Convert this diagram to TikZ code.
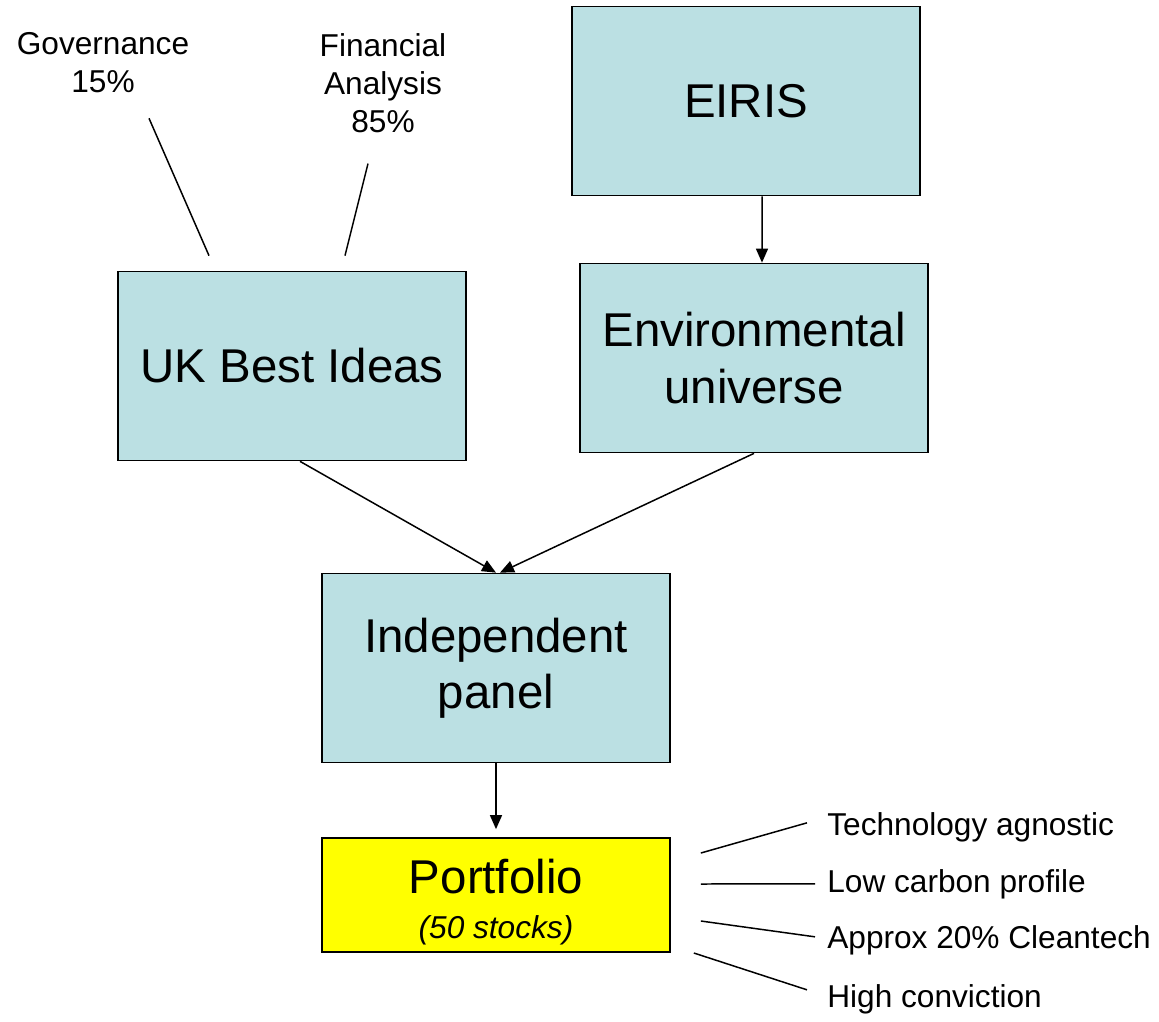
\documentclass[tikz,border=0pt]{standalone}
\usepackage{fontspec}
\setmainfont{Liberation Sans}
\usetikzlibrary{arrows.meta,positioning}

\definecolor{boxblue}{RGB}{187,224,227}
\definecolor{folioyellow}{RGB}{255,255,0}

\tikzset{
  stage/.style={draw, line width=1pt, fill=boxblue, minimum width=6.96cm,
    minimum height=3.78cm, align=center, font=\fontsize{27}{32}\selectfont},
  note/.style={align=center, font=\fontsize{18}{21.5}\selectfont},
  point/.style={inner sep=0pt, anchor=base west, font=\fontsize{18}{21.5}\selectfont},
  flow/.style={line width=0.85pt, -{Triangle[length=0.28cm,width=0.24cm]}},
  tie/.style={line width=0.85pt},
}

\begin{document}
\begin{tikzpicture}[x=0.02cm, y=-0.02cm]
    \useasboundingbox (0,0) rectangle (1159,1021);

    % the four stages
    \node[stage] (eiris) at (746,101) {EIRIS};
    \node[stage] (env) at (754,358) {Environmental\\universe};
    \node[stage] (ukbi) at (292,366) {UK Best Ideas};
    \node[stage] (panel) at (496,668) {Independent\\panel};
    \node[stage, fill=folioyellow, minimum height=2.28cm] (folio) at (496,895)
      {\rule{0pt}{27.5pt}Portfolio\\[-6pt]{\fontsize{18}{21.5}\selectfont\itshape (50 stocks)}};

    % weights feeding the stock picks
    \node[note] (gov) at (103,63) {Governance\\15\%};
    \node[note] (fin) at (383,83) {Financial\\Analysis\\85\%};

    % what the portfolio looks like
    \node[point] (tech) at (827,835) {Technology agnostic};
    \node[point] (carbon) at (827,892) {Low carbon profile};
    \node[point] (clean) at (827,948) {Approx 20\% Cleantech};
    \node[point] (conv) at (827,1007) {High conviction};

    \draw[flow] ([xshift=0.32cm]eiris.south) -- ([xshift=0.16cm]env.north);
    \draw[flow] ([xshift=0.16cm]ukbi.south) -- (panel.north);
    \draw[flow] (env.south) -- ([xshift=0.08cm]panel.north);
    \draw[flow, shorten >=0.16cm] (panel.south) -- (folio.north);

    \draw[tie] ([shift={(46,19)}]gov.south) -- ([shift={(-83,-15)}]ukbi.north);
    \draw[tie] ([shift={(-15,25)}]fin.south) -- ([shift={(53,-15)}]ukbi.north);

    \draw[tie] ([shift={(30,-42)}]folio.east) -- ([shift={(-20,-4)}]tech.west);
    \draw[tie] ([shift={(30,-11)}]folio.east) -- ([shift={(-12,0)}]carbon.west);
    \draw[tie] ([shift={(30,26)}]folio.east) -- ([shift={(-12,-3)}]clean.west);
    \draw[tie] ([shift={(23,58)}]folio.east) -- ([shift={(-20,-9)}]conv.west);
\end{tikzpicture}
\end{document}
